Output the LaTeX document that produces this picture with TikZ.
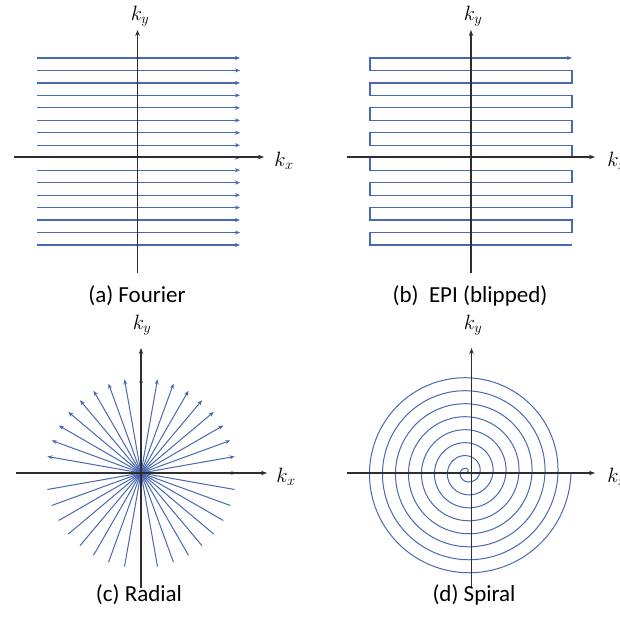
\documentclass[tikz,border=0pt]{standalone}
\usepackage{fontspec}
\setmainfont{Carlito}
\usepackage{amsmath}
\usetikzlibrary{arrows.meta,positioning}
\definecolor{lineblue}{RGB}{72,104,176}
\definecolor{axisgray}{RGB}{45,45,50}

\begin{document}
\begin{tikzpicture}[x=1pt, y=1pt,
  axis/.style={draw=axisgray, line width=1.1pt, -{Stealth[length=6pt, width=4.5pt]}},
  kline/.style={draw=lineblue, line width=1.2pt},
  ktip/.style={-{Stealth[length=5pt, width=4pt]}},
  klabel/.style={font=\fontsize{21}{24}\selectfont, inner sep=0pt},
  caption/.style={font=\fontsize{23}{27}\selectfont, inner sep=0pt},
]
  \useasboundingbox (0,0) rectangle (620,626);
  \def\dy{12.467}

  % (a) Fourier
  \foreach \i in {0,...,15}
    \draw[kline, ktip] (37, {381+\i*\dy}) -- (240, {381+\i*\dy});
  \draw[axis] (14, 469) -- (264, 469);
  \draw[axis] (137.5, 353) -- (137.5, 596);
  \node[klabel] (kxa) at (284, 465) {$k_x$};
  \node[klabel] (kya) at (140, 610) {$k_y$};
  \node[caption] (capa) at (137, 330) {(a) Fourier};

  % (b) EPI (blipped)
  \draw[kline, ktip] (572, 381)
    \foreach \i in {0,...,6} {
      -- (370, {381+2*\i*\dy}) -- (370, {381+(2*\i+1)*\dy})
      -- (572, {381+(2*\i+1)*\dy}) -- (572, {381+(2*\i+2)*\dy})
    }
    -- (370, {381+14*\dy}) -- (370, {381+15*\dy}) -- (572, {381+15*\dy});
  \draw[axis] (347, 469) -- (595, 469);
  \draw[axis] (471, 353) -- (471, 596);
  \node[klabel] (kxb) at (617, 465) {$k_x$};
  \node[klabel] (kyb) at (473, 610) {$k_y$};
  \node[caption] (capb) at (470, 330) {(b)\ \ EPI (blipped)};

  % (c) Radial
  \begin{scope}[shift={(141,153)}]
    \shade[inner color=lineblue, outer color=white] (0,0) circle (9);
    \foreach \a in {0,10,...,170}
      \draw[kline, line width=1pt, ktip] (\a+180:95) -- (\a:95);
  \end{scope}
  \draw[axis] (16, 153) -- (267, 153);
  \draw[axis] (141, 38) -- (141, 278);
  \node[klabel] (kxc) at (286, 149) {$k_x$};
  \node[klabel] (kyc) at (142, 301) {$k_y$};
  \node[caption] (capc) at (139, 31) {(c) Radial};

  % (d) Spiral, 8 turns
  \draw[kline, line width=1pt, shift={(467,154)}]
    plot[domain=0:8, samples=720, smooth]
    ({13*\x*cos(360*\x)}, {13*\x*sin(360*\x)});
  \draw[axis] (347, 153) -- (595, 153);
  \draw[axis] (471.5, 38) -- (471.5, 278);
  \node[klabel] (kxd) at (617, 149) {$k_x$};
  \node[klabel] (kyd) at (473, 301) {$k_y$};
  \node[caption] (capd) at (474, 31) {(d) Spiral};
\end{tikzpicture}
\end{document}
